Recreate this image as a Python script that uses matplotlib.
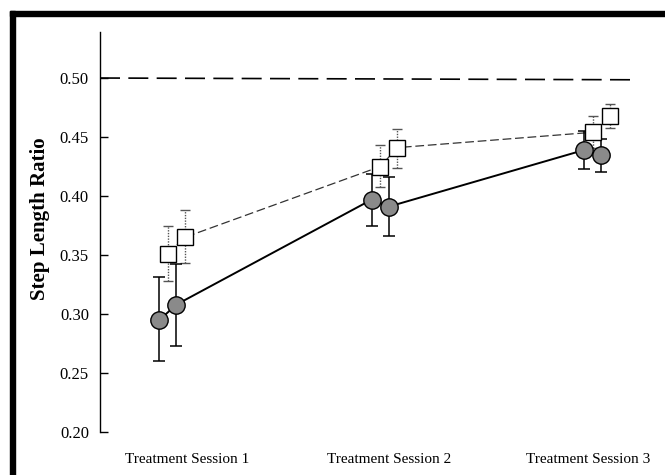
import matplotlib
matplotlib.use("Agg")
import matplotlib.pyplot as plt
from matplotlib.patches import Rectangle
import numpy as np

plt.rcParams['font.family'] = ['Liberation Serif', 'DejaVu Serif']

# ---- data ----
session_labels = ["Treatment Session 1", "Treatment Session 2", "Treatment Session 3"]
session_pos = [1, 2, 3]
label_pos = [1.07, 2.02, 2.96]

circle_val = [0.295, 0.308, 0.397, 0.391, 0.439, 0.435]
circle_lo = [0.260, 0.273, 0.375, 0.366, 0.423, 0.420]
circle_hi = [0.331, 0.342, 0.419, 0.416, 0.455, 0.448]

square_val = [0.351, 0.365, 0.425, 0.441, 0.454, 0.468]
square_lo = [0.328, 0.343, 0.408, 0.424, 0.441, 0.458]
square_hi = [0.375, 0.388, 0.443, 0.457, 0.468, 0.478]

circle_offsets = [-0.06, 0.02]
square_offsets = [-0.02, 0.06]

reference_level = [0.500, 0.4985]
reference_x = [0.66, 3.18]

yticks = [0.20, 0.25, 0.30, 0.35, 0.40, 0.45, 0.50]

# ---- positions ----
cx = np.array([s + o for s in session_pos for o in circle_offsets])
sx = np.array([s + o for s in session_pos for o in square_offsets])
cv = np.array(circle_val); sv = np.array(square_val)
c_err = np.array([cv - np.array(circle_lo), np.array(circle_hi) - cv])
s_err = np.array([sv - np.array(square_lo), np.array(square_hi) - sv])

fig = plt.figure(figsize=(6.65, 4.75), dpi=100)
fig.patches.append(Rectangle((10/665, 0), 5/665, 1 - 11/475, transform=fig.transFigure,
                             color='black', zorder=10))
fig.patches.append(Rectangle((10/665, 1 - 16/475), 1, 5/475, transform=fig.transFigure,
                             color='black', zorder=10))

ax = fig.add_axes([100/665, 1 - 432/475, 550/665, 400/475])
ax.set_xlim(0.66, 3.25)
ax.set_ylim(0.20, 0.539)

# reference line
ax.plot(reference_x, reference_level, color='black', lw=1.2, dashes=(12, 5), zorder=1)

# squares: dashed line sq1..sq5
ax.plot(sx[:5], sv[:5], color='#333333', lw=0.9, dashes=(7, 3), zorder=2)
eb = ax.errorbar(sx, sv, yerr=s_err, fmt='none', ecolor='#555555', elinewidth=1.0,
                 capsize=3.5, capthick=1.0, zorder=2)
for lc in eb[2]:
    lc.set_linestyle((0, (1, 1)))
ax.plot(sx, sv, linestyle='none', marker='s', markersize=11, markerfacecolor='white',
        markeredgecolor='black', markeredgewidth=1.0, zorder=4)

# circles: solid line
ax.plot(cx, cv, color='black', lw=1.4, zorder=3)
ax.errorbar(cx, cv, yerr=c_err, fmt='none', ecolor='black', elinewidth=1.1,
            capsize=4, capthick=1.1, zorder=3)
ax.plot(cx, cv, linestyle='none', marker='o', markersize=12.5, markerfacecolor='#8a8a8a',
        markeredgecolor='black', markeredgewidth=1.0, zorder=5)

for sp in ['top', 'right', 'bottom']:
    ax.spines[sp].set_visible(False)
ax.spines['left'].set_linewidth(1.0)
ax.spines['left'].set_bounds(0.20, 0.539)

ax.set_yticks(yticks)
ax.set_yticklabels([f"{t:.2f}" for t in yticks], fontsize=12)
ax.tick_params(axis='y', direction='in', length=6, width=1.0, pad=8)
ax.set_xticks(label_pos)
ax.set_xticklabels(session_labels, fontsize=11)
ax.tick_params(axis='x', length=0, pad=15)

fig.text(40/665, 1 - 218.5/475, "Step Length Ratio", fontsize=15, fontweight='bold',
         rotation=90, ha='center', va='center')

fig.savefig("out.png", dpi=100)
